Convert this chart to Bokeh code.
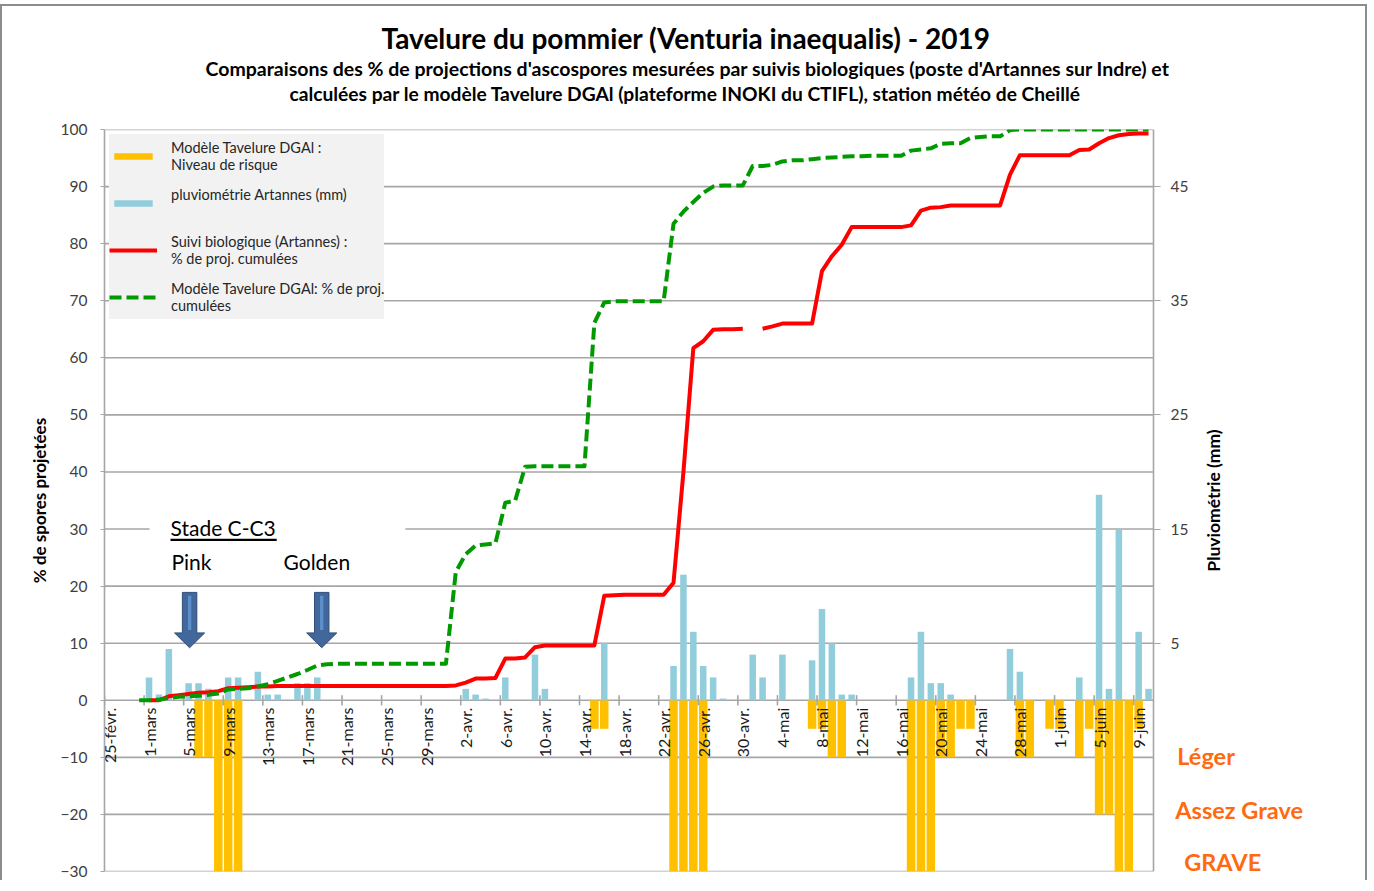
import math
from bokeh.plotting import figure
from bokeh.models import (Range1d, LinearAxis, FixedTicker, Legend, LegendItem,
                          Label, BoxAnnotation, ColumnDataSource, Title)
from bokeh.core.properties import value
from bokeh.embed import file_html
from bokeh.resources import INLINE

FONT = "Lato"
NAN = float("nan")

# ---------------- data (day index 0 = 25 Feb 2019 ... 105 = 10 Jun 2019) ----------------
tick_labels = ["25-févr.", "1-mars", "5-mars", "9-mars", "13-mars", "17-mars", "21-mars",
               "25-mars", "29-mars", "2-avr.", "6-avr.", "10-avr.", "14-avr.", "18-avr.",
               "22-avr.", "26-avr.", "30-avr.", "4-mai", "8-mai", "12-mai", "16-mai",
               "20-mai", "24-mai", "28-mai", "1-juin", "5-juin", "9-juin"]

# pluviométrie Artannes (mm), one value per day
rain = [0, 0, 0, 0, 2, 0.5, 4.5, 0, 1.5, 1.5,
        1, 0, 2, 2, 0, 2.5, 0.5, 0.5, 0, 1.5,
        1.5, 2, 0, 0, 0, 0, 0, 0, 0, 0,
        0, 0, 0, 0, 0, 0, 1, 0.5, 0.15, 0,
        2, 0, 0, 4, 1, 0, 0, 0, 0, 0,
        5, 0, 0, 0, 0, 0, 0, 3, 11, 6,
        3, 2, 0.15, 0, 0, 4, 2, 0, 4, 0,
        0, 3.5, 8, 5, 0.5, 0.5, 0, 0, 0, 0,
        0, 2, 6, 1.5, 1.5, 0.5, 0, 0, 0, 0,
        0, 4.5, 2.5, 0, 0, 0, 0, 0, 2, 0,
        18, 1, 15, 0, 6, 1]

# Modèle Tavelure DGAl : niveau de risque (-5 / -10 léger / -20 assez grave / -30 grave)
risk = [0, 0, 0, 0, 0, 0, 0, 0, 0, -10,
        -10, -30, -30, -30, 0, 0, 0, 0, 0, 0,
        0, 0, 0, 0, 0, 0, 0, 0, 0, 0,
        0, 0, 0, 0, 0, 0, 0, 0, 0, 0,
        0, 0, 0, 0, 0, 0, 0, 0, 0, -5,
        -5, 0, 0, 0, 0, 0, 0, -30, -30, -30,
        -30, 0, 0, 0, 0, 0, 0, 0, 0, 0,
        0, -5, -5, -10, -10, 0, 0, 0, 0, 0,
        0, -30, -30, -30, -10, -10, -5, -5, 0, 0,
        0, 0, -10, -10, 0, -5, -5, 0, -10, -5,
        -20, -20, -30, -30, -5, 0]

# Suivi biologique (Artannes) : % de projections cumulées
bio = [NAN, NAN, NAN, NAN, 0, 0, 0.7, 0.9, 1.1, 1.3,
       1.4, 1.6, 2.1, 2.2, 2.3, 2.4, 2.4, 2.5, 2.5, 2.5,
       2.5, 2.5, 2.5, 2.5, 2.5, 2.5, 2.5, 2.5, 2.5, 2.5,
       2.5, 2.5, 2.5, 2.5, 2.5, 2.6, 3.1, 3.8, 3.8, 3.9,
       7.3, 7.3, 7.5, 9.3, 9.6, 9.6, 9.6, 9.6, 9.6, 9.6,
       18.3, 18.4, 18.5, 18.5, 18.5, 18.5, 18.5, 20.6, 40.0, 61.7,
       62.9, 64.9, 65.0, 65.0, 65.1, NAN, 65.1, 65.5, 66.0, 66.0,
       66.0, 66.0, 75.2, 77.8, 79.8, 82.9, 82.9, 82.9, 82.9, 82.9,
       82.9, 83.2, 85.8, 86.3, 86.4, 86.7, 86.7, 86.7, 86.7, 86.7,
       86.7, 92.1, 95.5, 95.5, 95.5, 95.5, 95.5, 95.5, 96.4, 96.5,
       97.6, 98.5, 99.0, 99.2, 99.3, 99.3]

# Modèle Tavelure DGAl : % de projections cumulées
model = [NAN, NAN, NAN, 0, 0, 0.1, 0.4, 0.6, 0.7, 0.8,
         0.95, 1.2, 1.9, 2.0, 2.1, 2.4, 2.8, 3.4, 4.0, 4.6,
         5.3, 6.1, 6.3, 6.4, 6.4, 6.4, 6.4, 6.4, 6.4, 6.4,
         6.4, 6.4, 6.4, 6.4, 6.4, 22.5, 25.6, 27.1, 27.3, 27.5,
         34.6, 35.0, 40.9, 41.0, 41.0, 41.0, 41.0, 41.0, 41.0, 66.1,
         69.7, 69.9, 69.9, 69.9, 69.9, 69.9, 69.9, 83.5, 85.6, 87.3,
         88.9, 90.0, 90.2, 90.2, 90.2, 93.6, 93.6, 93.8, 94.4, 94.6,
         94.6, 94.8, 95.0, 95.1, 95.2, 95.3, 95.3, 95.4, 95.4, 95.4,
         95.4, 96.3, 96.5, 96.7, 97.5, 97.6, 97.6, 98.5, 98.7, 98.8,
         98.8, 99.9, 100, 100, 100, 100, 100, 100, 100, 100,
         100, 100, 100, 100, 100, 100]

stage_x = [8.1, 21.45]           # arrows: Pink, Golden
stage_names = ["Pink", "Golden"]
risk_names = ["Léger", "Assez Grave", "GRAVE"]

n = len(rain)
days = list(range(n))

# ---------------- figure ----------------
# The plotting frame extends to the right of the last day so that the rain axis
# (fixed at the end of the period), its title and the risk names can sit there.
TOP = 4                            # extra top margin (outer border position)
W, H = 1367, 880 - TOP
BL, BR = 102, 32
plot_w = 1049                      # width of the dated part of the frame (px)
x_end = -0.5 + n * (W - BL - BR) / plot_w
p = figure(width=W, height=H, output_backend="svg", toolbar_location=None,
           x_range=Range1d(-0.5, x_end), y_range=Range1d(-30, 100),
           min_border_left=BL, min_border_right=BR, min_border_top=127 - TOP,
           min_border_bottom=11)
p.outline_line_color = None
p.background_fill_color = "white"
p.xaxis.visible = False
p.xgrid.visible = False
p.ygrid.visible = False

GRID = "#A6A6A6"
yt = list(range(-30, 101, 10))
p.segment(x0=-0.5, y0=yt, x1=n - 0.5, y1=yt, line_color=GRID, line_width=1.6, level="underlay")

ya = p.yaxis[0]
ya.ticker = FixedTicker(ticks=yt)
ya.axis_line_color = GRID
ya.axis_line_width = 1.6
ya.major_tick_line_color = GRID
ya.major_tick_out = 4
ya.major_tick_in = 0
ya.minor_tick_line_color = None
ya.major_label_standoff = 13
ya.major_label_text_font = FONT
ya.major_label_text_font_size = "15.5px"
ya.major_label_text_color = "#404040"
ya.axis_label = "% de spores projetées"
ya.axis_label_text_font = FONT
ya.axis_label_text_font_size = "17px"
ya.axis_label_text_font_style = "bold"
ya.axis_label_text_color = "black"
ya.axis_label_standoff = 8

p.extra_y_ranges = {"rain": Range1d(-15, 50)}
ra = LinearAxis(y_range_name="rain", ticker=FixedTicker(ticks=[5, 15, 25, 35, 45]),
                fixed_location=n - 0.5)
ra.axis_line_color = GRID
ra.axis_line_width = 1.6
ra.major_tick_line_color = GRID
ra.major_tick_out = 7
ra.major_tick_in = 0
ra.minor_tick_line_color = None
ra.major_label_standoff = 10
ra.major_label_text_font = FONT
ra.major_label_text_font_size = "15.5px"
ra.major_label_text_color = "#404040"
p.add_layout(ra, "right")

# risk bars (negative) and rain bars (right axis)
src = ColumnDataSource(dict(day=days, rain=rain, risk=risk))
r_risk = p.vbar(x="day", top="risk", bottom=0, width=0.86, source=src,
                fill_color="#FFC000", line_color=None)
r_rain = p.vbar(x="day", top="rain", bottom=0, width=0.66, source=src,
                y_range_name="rain", fill_color="#92CDDC", line_color=None)

# x "axis" at 0: tick marks between categories and rotated date labels
tick_pos = [4 * i for i in range(len(tick_labels))]
p.segment(x0=[t - 0.5 for t in tick_pos], y0=-0.9, x1=[t - 0.5 for t in tick_pos], y1=0.9,
          line_color=GRID, line_width=1.6)
p.text(x=tick_pos, y=[-1.3] * len(tick_pos), text=tick_labels, angle=math.pi / 2,
       text_align="right", text_baseline="middle", text_font=value(FONT),
       text_font_size="16px", text_color="#1A1A1A")

# cumulated lines
r_bio = p.line(days, bio, line_color="#FF0000", line_width=4, line_join="round")
r_model = p.line(days, model, line_color="#009A00", line_width=4, line_dash="12 5",
                 line_join="round")

# stage arrows
axs, ays, sxs, sys_ = [], [], [], []
for sx in stage_x:
    axs.append([sx - 0.73, sx + 0.73, sx + 0.73, sx + 1.52, sx, sx - 1.52, sx - 0.73])
    ays.append([18.9, 18.9, 11.8, 11.8, 9.2, 11.8, 11.8])
    sxs.append([sx - 0.17, sx + 0.17, sx + 0.17, sx - 0.17])
    sys_.append([18.3, 18.3, 12.3, 12.3])
p.patches(axs, ays, fill_color="#41679B", line_color="#2F4E7A", line_width=1)
p.patches(sxs, sys_, fill_color="#5E8FCB", line_color=None)

# text box "Stade C-C3" (white box hides the grid line behind it) + underline
p.add_layout(BoxAnnotation(left=4.05, right=29.9, bottom=27, top=33.5,
                           fill_color="white", fill_alpha=1, line_color=None))
p.add_layout(BoxAnnotation(left=6.17, right=16.9, bottom=27.9, top=28.3,
                           fill_color="black", fill_alpha=1, line_color=None))
p.add_layout(Label(x=6.17, y=30.3, text="Stade C-C3", text_font=FONT, text_font_size="21px",
                   text_baseline="middle", text_color="black"))
for sx, nm, lx in zip(stage_x, stage_names, [6.27, 17.59]):
    p.add_layout(Label(x=lx, y=24.3, text=nm, text_font=FONT, text_font_size="21px",
                       text_baseline="middle", text_color="black"))

# right axis title and risk level names
p.add_layout(Label(x=111.6, y=35.0, text="Pluviométrie (mm)", angle=math.pi / 2,
                   text_font=FONT, text_font_size="17.5px", text_font_style="bold",
                   text_align="center", text_baseline="middle", text_color="black"))
for txt, lx, ly in zip(risk_names, [107.9, 107.7, 108.6], [-9.7, -19.3, -28.3]):
    p.add_layout(Label(x=lx, y=ly, text=txt, text_font=FONT, text_font_size="23.5px",
                       text_font_style="bold", text_baseline="middle", text_color="#FF6A10"))

# legend
legend = Legend(items=[
    LegendItem(label="Modèle Tavelure DGAl :\nNiveau de risque", renderers=[r_risk]),
    LegendItem(label="pluviométrie Artannes (mm)\n ", renderers=[r_rain]),
    LegendItem(label="Suivi biologique (Artannes) :\n% de proj. cumulées", renderers=[r_bio]),
    LegendItem(label="Modèle Tavelure DGAl: % de proj.\ncumulées", renderers=[r_model]),
], location="top_left", margin=5, padding=17, spacing=3, glyph_width=48, glyph_height=8,
    label_height=44, label_standoff=14, label_text_font=FONT, label_text_font_size="14.5px",
    label_text_color="#262626", background_fill_color="#F2F2F2", background_fill_alpha=1,
    border_line_color=None)
p.add_layout(legend)

# titles (above panel): spacer nearest the frame, then subtitle lines, then title
p.add_layout(Title(text=" ", text_font_size="14px", standoff=7, text_color="white"), "above")
p.add_layout(Title(text="calculées par le modèle Tavelure DGAl (plateforme INOKI du CTIFL), station météo de Cheillé",
                   align="left", offset=185, standoff=0, text_font=FONT, text_font_size="19.2px",
                   text_font_style="bold", text_color="black"), "above")
p.add_layout(Title(text="Comparaisons des % de projections d'ascospores mesurées par suivis biologiques (poste d'Artannes sur Indre) et",
                   align="left", offset=101, standoff=0, text_font=FONT, text_font_size="19.5px",
                   text_font_style="bold", text_color="black"), "above")
p.add_layout(Title(text="Tavelure du pommier (Venturia inaequalis) - 2019",
                   align="left", offset=277, standoff=0, text_font=FONT, text_font_size="28px",
                   text_font_style="bold", text_color="black"), "above")

p.styles = {"margin-top": f"{TOP}px",
            "border-top": "2px solid #8C8C8C", "border-left": "2px solid #8C8C8C",
            "border-right": "2px solid #8C8C8C"}

open("out.html", "w").write(file_html(p, INLINE))
